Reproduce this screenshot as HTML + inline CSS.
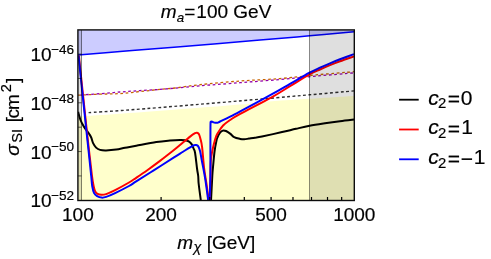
<!DOCTYPE html>
<html><head><meta charset="utf-8"><title>plot</title>
<style>html,body{margin:0;padding:0;background:#fff}svg{display:block;will-change:transform}</style>
</head><body>
<svg width="491" height="259" viewBox="0 0 491 259">
<rect width="491" height="259" fill="#fff"/>
<defs><clipPath id="cp"><rect x="77.90" y="29.90" width="276.40" height="170.60"/></clipPath></defs>
<g clip-path="url(#cp)">
<path d="M78.00 54.90 C85.50 54.30 107.00 52.58 123.00 51.30 C139.00 50.02 151.17 49.08 174.00 47.20 C196.83 45.32 237.42 41.90 260.00 40.00 C282.58 38.10 293.83 37.18 309.50 35.80 C325.17 34.42 346.58 32.38 354.00 31.70 L354.30 29.90 L77.90 29.90 Z" fill="#ccccff"/>
<path d="M78.00 116.80 C85.50 116.27 107.00 114.77 123.00 113.60 C139.00 112.43 154.50 111.30 174.00 109.80 C193.50 108.30 223.67 106.03 240.00 104.60 C256.33 103.17 260.42 102.17 272.00 101.20 C283.58 100.23 295.83 99.67 309.50 98.80 C323.17 97.93 346.58 96.47 354.00 96.00 L354.30 200.50 L77.90 200.50 Z" fill="#ffffcc"/>
<path d="M88.60 112.60 C94.33 112.23 108.77 111.43 123.00 110.40 C137.23 109.37 150.83 108.30 174.00 106.40 C197.17 104.50 239.42 100.93 262.00 99.00 C284.58 97.07 294.17 96.15 309.50 94.80 C324.83 93.45 346.58 91.55 354.00 90.90" fill="none" stroke="#303030" stroke-width="1.4" stroke-dasharray="2.9 2.48"/>
<path d="M78.00 95.20 C81.67 95.03 93.00 94.47 100.00 94.20 C107.00 93.93 113.33 94.03 120.00 93.60 C126.67 93.17 133.33 92.30 140.00 91.60 C146.67 90.90 154.17 90.00 160.00 89.40 C165.83 88.80 168.33 88.78 175.00 88.00 C181.67 87.22 189.17 85.87 200.00 84.70 C210.83 83.53 226.67 82.02 240.00 81.00 C253.33 79.98 267.33 79.62 280.00 78.60 C292.67 77.58 303.67 76.05 316.00 74.90 C328.33 73.75 347.67 72.23 354.00 71.70" fill="none" stroke="#c86400" stroke-width="1.3" stroke-dasharray="2.7 2.6"/>
<path d="M78.00 95.20 C81.67 94.95 93.00 94.23 100.00 93.70 C107.00 93.17 113.33 92.52 120.00 92.00 C126.67 91.48 133.33 91.03 140.00 90.60 C146.67 90.17 154.17 89.82 160.00 89.40 C165.83 88.98 168.33 88.70 175.00 88.10 C181.67 87.50 189.17 86.70 200.00 85.80 C210.83 84.90 226.67 83.75 240.00 82.70 C253.33 81.65 267.33 80.60 280.00 79.50 C292.67 78.40 303.67 77.20 316.00 76.10 C328.33 75.00 347.67 73.43 354.00 72.90" fill="none" stroke="#9400a8" stroke-width="1.3" stroke-dasharray="2.7 2.6" stroke-dashoffset="2.65"/>
<path d="M78.00 54.90 C85.50 54.30 107.00 52.58 123.00 51.30 C139.00 50.02 151.17 49.08 174.00 47.20 C196.83 45.32 237.42 41.90 260.00 40.00 C282.58 38.10 293.83 37.18 309.50 35.80 C325.17 34.42 346.58 32.38 354.00 31.70" fill="none" stroke="#0000ff" stroke-width="1.5"/>
<path d="M78.10 111.90 C78.50 113.25 79.60 117.65 80.50 120.00 C81.40 122.35 82.65 124.48 83.50 126.00 C84.35 127.52 84.85 128.05 85.60 129.10 C86.35 130.15 87.08 130.95 88.00 132.30 C88.92 133.65 90.25 135.40 91.10 137.20 C91.95 139.00 92.27 141.37 93.10 143.10 C93.93 144.83 94.93 146.47 96.10 147.60 C97.27 148.73 98.43 149.43 100.10 149.90 C101.77 150.37 103.42 150.45 106.10 150.40 C108.78 150.35 113.05 150.03 116.20 149.60 C119.35 149.17 121.67 148.45 125.00 147.80 C128.33 147.15 130.98 146.67 136.20 145.70 C141.42 144.73 150.67 142.87 156.30 142.00 C161.93 141.13 166.05 140.85 170.00 140.50 C173.95 140.15 177.48 139.95 180.00 139.90 C182.52 139.85 183.58 139.92 185.10 140.20 C186.62 140.48 188.02 140.95 189.10 141.60 C190.18 142.25 190.85 142.93 191.60 144.10 C192.35 145.27 193.02 147.12 193.60 148.60 C194.18 150.08 194.52 149.60 195.10 153.00 C195.68 156.40 196.58 165.17 197.10 169.00 C197.62 172.83 197.93 173.50 198.20 176.00 C198.47 178.50 198.25 179.83 198.70 184.00 C199.15 188.17 200.53 198.17 200.90 201.00" fill="none" stroke="#000" stroke-width="2.00" stroke-linejoin="round"/>
<path d="M211.00 201.00 C211.22 196.83 211.95 181.83 212.30 176.00 C212.65 170.17 212.72 170.17 213.10 166.00 C213.48 161.83 214.05 155.17 214.60 151.00 C215.15 146.83 215.93 143.25 216.40 141.00 C216.87 138.75 216.88 138.78 217.40 137.50 C217.92 136.22 218.73 134.38 219.50 133.30 C220.27 132.22 221.32 131.48 222.00 131.00 C222.68 130.52 222.93 130.40 223.60 130.40 C224.27 130.40 224.92 130.47 226.00 131.00 C227.08 131.53 228.75 132.58 230.10 133.60 C231.45 134.62 232.42 136.22 234.10 137.10 C235.78 137.98 238.52 138.53 240.20 138.90 C241.88 139.27 242.73 139.35 244.20 139.30 C245.67 139.25 247.20 138.87 249.00 138.60 C250.80 138.33 252.83 138.05 255.00 137.70 C257.17 137.35 257.48 137.43 262.00 136.50 C266.52 135.57 276.43 133.38 282.10 132.10 C287.77 130.82 291.42 129.85 296.00 128.80 C300.58 127.75 304.77 126.72 309.60 125.80 C314.43 124.88 319.93 124.07 325.00 123.30 C330.07 122.53 335.12 121.83 340.00 121.20 C344.88 120.57 351.92 119.78 354.30 119.50" fill="none" stroke="#000" stroke-width="2.00" stroke-linejoin="round"/>
<path d="M78.80 55.50 C79.45 61.58 81.45 80.25 82.70 92.00 C83.95 103.75 85.22 116.00 86.30 126.00 C87.38 136.00 88.25 143.67 89.20 152.00 C90.15 160.33 91.27 170.33 92.00 176.00 C92.73 181.67 93.08 183.48 93.60 186.00 C94.12 188.52 94.43 189.78 95.10 191.10 C95.77 192.42 96.52 193.28 97.60 193.90 C98.68 194.52 100.18 194.77 101.60 194.80 C103.02 194.83 103.85 194.88 106.10 194.10 C108.35 193.32 111.28 192.03 115.10 190.10 C118.92 188.17 125.48 184.55 129.00 182.50 C132.52 180.45 133.15 179.85 136.20 177.80 C139.25 175.75 143.33 173.02 147.30 170.20 C151.27 167.38 155.72 164.13 160.00 160.90 C164.28 157.67 169.67 153.43 173.00 150.80 C176.33 148.17 177.15 147.47 180.00 145.10 C182.85 142.73 187.58 138.58 190.10 136.60 C192.62 134.62 193.97 133.85 195.10 133.20 C196.23 132.55 196.35 132.67 196.90 132.70 C197.45 132.73 198.00 133.02 198.40 133.40 C198.80 133.78 198.93 133.98 199.30 135.00 C199.67 136.02 200.13 137.48 200.60 139.50 C201.07 141.52 201.52 142.33 202.10 147.10 C202.68 151.87 203.37 161.95 204.10 168.10 C204.83 174.25 205.72 178.52 206.50 184.00 C207.28 189.48 208.42 198.17 208.80 201.00" fill="none" stroke="#ff0000" stroke-width="2.00" stroke-linejoin="round"/>
<path d="M209.90 201.00 C209.98 197.50 210.28 185.83 210.40 180.00 C210.52 174.17 210.50 169.50 210.60 166.00 C210.70 162.50 210.77 161.25 211.00 159.00 C211.23 156.75 211.60 154.67 212.00 152.50 C212.40 150.33 212.95 147.92 213.40 146.00 C213.85 144.08 214.22 142.67 214.70 141.00 C215.18 139.33 215.73 137.40 216.30 136.00 C216.87 134.60 216.97 134.35 218.10 132.60 C219.23 130.85 221.10 127.60 223.10 125.50 C225.10 123.40 227.25 121.93 230.10 120.00 C232.95 118.07 233.22 117.72 240.20 113.90 C247.18 110.08 263.70 101.72 272.00 97.10 C280.30 92.48 283.75 89.98 290.00 86.20 C296.25 82.42 304.50 77.18 309.50 74.40 C314.50 71.62 316.58 71.03 320.00 69.50 C323.42 67.97 326.67 66.57 330.00 65.20 C333.33 63.83 336.00 62.77 340.00 61.30 C344.00 59.83 351.67 57.22 354.00 56.40" fill="none" stroke="#ff0000" stroke-width="2.00" stroke-linejoin="round"/>
<path d="M78.50 55.50 C79.13 61.58 81.07 80.25 82.30 92.00 C83.53 103.75 84.83 116.00 85.90 126.00 C86.97 136.00 87.82 143.67 88.70 152.00 C89.58 160.33 90.62 170.33 91.20 176.00 C91.78 181.67 91.72 183.15 92.20 186.00 C92.68 188.85 93.28 191.42 94.10 193.10 C94.92 194.78 95.85 195.35 97.10 196.10 C98.35 196.85 100.10 197.47 101.60 197.60 C103.10 197.73 103.85 197.65 106.10 196.90 C108.35 196.15 111.28 194.92 115.10 193.10 C118.92 191.28 125.48 187.95 129.00 186.00 C132.52 184.05 132.15 183.97 136.20 181.40 C140.25 178.83 147.00 174.60 153.30 170.60 C159.60 166.60 169.12 160.50 174.00 157.40 C178.88 154.30 179.92 153.68 182.60 152.00 C185.28 150.32 188.18 148.43 190.10 147.30 C192.02 146.17 193.10 145.58 194.10 145.20 C195.10 144.82 195.52 144.93 196.10 145.00 C196.68 145.07 197.18 145.27 197.60 145.60 C198.02 145.93 198.18 146.05 198.60 147.00 C199.02 147.95 199.52 148.78 200.10 151.30 C200.68 153.82 201.27 157.62 202.10 162.10 C202.93 166.58 204.07 171.72 205.10 178.20 C206.13 184.68 207.77 197.20 208.30 201.00" fill="none" stroke="#0000ff" stroke-width="2.00" stroke-linejoin="round"/>
<path d="M209.60 201.00 C209.73 196.83 210.27 184.50 210.40 176.00 C210.53 167.50 210.38 158.58 210.40 150.00 C210.42 141.42 210.40 129.12 210.50 124.50 C210.60 119.88 210.78 122.78 211.00 122.30 C211.22 121.82 211.43 121.62 211.80 121.60 C212.17 121.58 212.65 122.00 213.20 122.20 C213.75 122.40 214.38 122.72 215.10 122.80 C215.82 122.88 216.67 122.92 217.50 122.70 C218.33 122.48 218.00 122.50 220.10 121.50 C222.20 120.50 226.75 118.38 230.10 116.70 C233.45 115.02 233.22 115.15 240.20 111.40 C247.18 107.65 263.70 98.78 272.00 94.20 C280.30 89.62 283.75 87.48 290.00 83.90 C296.25 80.32 304.50 75.40 309.50 72.70 C314.50 70.00 316.58 69.27 320.00 67.70 C323.42 66.13 326.67 64.70 330.00 63.30 C333.33 61.90 336.00 60.83 340.00 59.30 C344.00 57.77 351.67 54.97 354.00 54.10" fill="none" stroke="#0000ff" stroke-width="2.00" stroke-linejoin="round"/>
<rect x="309.50" y="29.90" width="44.80" height="170.60" fill="#000" fill-opacity="0.125"/>
<rect x="77.90" y="29.90" width="3.60" height="170.60" fill="#000" fill-opacity="0.125"/>
<path d="M309.5 29.90 V200.50" stroke="#000" stroke-opacity="0.55" stroke-width="0.8"/>
<path d="M81.5 29.90 V200.50" stroke="#000" stroke-opacity="0.6" stroke-width="0.8"/>
</g>
<path d="M161.10 200.50 v-3.50 M209.78 200.50 v-3.50 M244.31 200.50 v-3.50 M271.10 200.50 v-3.50 M292.98 200.50 v-3.50 M311.49 200.50 v-3.50 M327.51 200.50 v-3.50 M341.65 200.50 v-3.50" stroke="#000" stroke-width="1.2" fill="none"/>
<path d="M77.90 175.93 h3.60 M77.90 151.56 h3.60 M77.90 127.19 h3.60 M77.90 102.81 h3.60 M77.90 78.44 h3.60 M77.90 54.07 h3.60" stroke="#000" stroke-width="0.6" fill="none"/>
<rect x="77.90" y="29.90" width="276.40" height="170.60" fill="none" stroke="#0c0c0c" stroke-width="1.4"/>
<g font-family="'Liberation Sans', sans-serif" font-size="19" fill="#000" stroke="#000" stroke-width="0.18">
<text x="160.68" y="17.70" font-style="italic">m</text>
<text x="176.80" y="21.50" font-style="italic" font-size="13.4">a</text>
<text x="184.17" y="17.70">=</text>
<text x="196.35" y="17.70">100</text>
<text x="233.34" y="17.70">GeV</text>
<text x="77.90" y="220.8" text-anchor="middle">100</text>
<text x="161.10" y="220.8" text-anchor="middle">200</text>
<text x="271.10" y="220.8" text-anchor="middle">500</text>
<text x="354.30" y="220.8" text-anchor="middle">1000</text>
<text x="30.55" y="61.17">10</text>
<text x="51.13" y="53.97" font-size="13.6">−46</text>
<text x="30.55" y="109.91">10</text>
<text x="51.13" y="102.71" font-size="13.6">−48</text>
<text x="30.55" y="158.66">10</text>
<text x="51.13" y="151.46" font-size="13.6">−50</text>
<text x="30.55" y="207.40">10</text>
<text x="51.13" y="200.20" font-size="13.6">−52</text>
<text x="177.28" y="248.80" font-style="italic">m</text>
<text x="193.44" y="252.40" font-style="italic" font-size="14.3">χ</text>
<text x="206.65" y="248.80">[GeV]</text>
<g transform="translate(19,0) rotate(-90)">
<text x="-155.83" y="0.00" font-style="italic">σ</text>
<text x="-142.76" y="3.30" font-size="14.6">SI</text>
<text x="-122.35" y="0.00">[</text>
<text x="-118.51" y="0.00">c</text>
<text x="-109.96" y="0.00">m</text>
<text x="-92.33" y="-7.60" font-size="14.6">2</text>
<text x="-83.05" y="0.00">]</text>
</g>
<path d="M399.1 99.70 H418.7" stroke="#000" stroke-width="1.8"/>
<text x="428.31" y="104.60" font-style="italic" font-size="21">c</text>
<text x="437.95" y="107.90" font-size="14.9">2</text>
<text x="447.67" y="106.00" font-size="21">=</text>
<text x="460.68" y="104.60" font-size="21">0</text>
<path d="M399.1 129.50 H418.7" stroke="#ff0000" stroke-width="1.8"/>
<text x="428.31" y="134.40" font-style="italic" font-size="21">c</text>
<text x="437.95" y="137.70" font-size="14.9">2</text>
<text x="447.67" y="135.80" font-size="21">=</text>
<text x="461.20" y="134.40" font-size="21">1</text>
<path d="M399.1 159.30 H418.7" stroke="#0000ff" stroke-width="1.8"/>
<text x="428.31" y="164.20" font-style="italic" font-size="21">c</text>
<text x="437.95" y="167.50" font-size="14.9">2</text>
<text x="447.67" y="165.60" font-size="21">=</text>
<text x="460.66" y="165.70" font-size="21">−</text>
<text x="473.70" y="164.20" font-size="21">1</text>
</g>
</svg>
</body></html>
